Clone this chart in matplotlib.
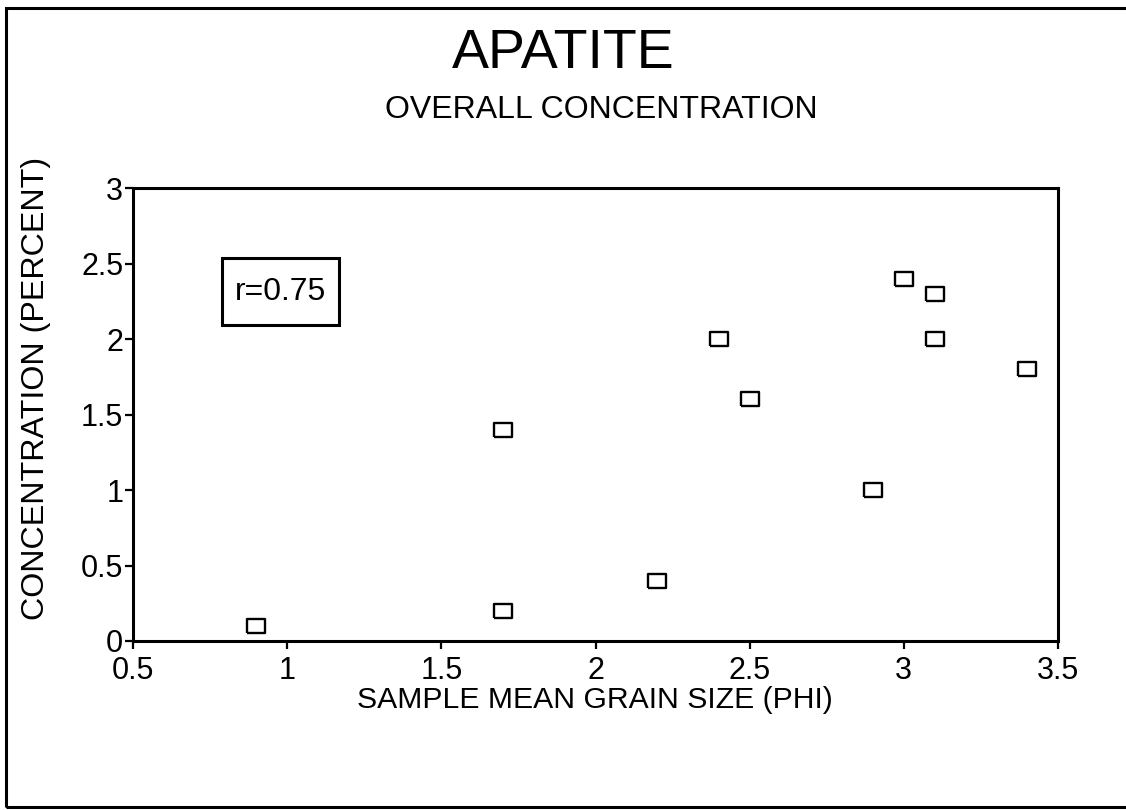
import matplotlib
matplotlib.use("Agg")
import matplotlib.pyplot as plt
from matplotlib.patches import Rectangle

plt.rcParams['font.family'] = ['Liberation Sans', 'DejaVu Sans']

# Data
grain_size = [0.9, 1.7, 1.7, 2.2, 2.4, 2.5, 2.9, 3.0, 3.1, 3.1, 3.4]
concentration = [0.1, 0.2, 1.4, 0.4, 2.0, 1.6, 1.0, 2.4, 2.3, 2.0, 1.8]
x_ticks = [0.5, 1, 1.5, 2, 2.5, 3, 3.5]
x_tick_labels = ["0.5", "1", "1.5", "2", "2.5", "3", "3.5"]
y_ticks = [0, 0.5, 1, 1.5, 2, 2.5, 3]
y_tick_labels = ["0", "0.5", "1", "1.5", "2", "2.5", "3"]
title = "APATITE"
subtitle = "OVERALL CONCENTRATION"
x_label = "SAMPLE MEAN GRAIN SIZE (PHI)"
y_label = "CONCENTRATION (PERCENT)"
annotation = "r=0.75"

W, H = 1126, 810
fig = plt.figure(figsize=(W / 100, H / 100), dpi=100)
fig.patch.set_facecolor('white')

# outer frame (right side cut off in the reference)
fig.add_artist(Rectangle((6 / W, 3 / H), 1.2, (807 - 8) / H,
                         transform=fig.transFigure, fill=False,
                         edgecolor='black', linewidth=2.2, clip_on=False))

ax = fig.add_axes([133 / W, 1 - 641 / H, (1058 - 133) / W, (641 - 188) / H])

rect_marker = [(-1, -0.78), (1, -0.78), (1, 0.78), (-1, 0.78), (-1, -0.78)]
ax.plot(grain_size, concentration, linestyle='none', marker=rect_marker,
        markersize=12.5, markerfacecolor='white', markeredgecolor='black',
        markeredgewidth=1.7, clip_on=False)

ax.set_xlim(0.5, 3.5)
ax.set_ylim(0, 3)
ax.set_xticks(x_ticks)
ax.set_xticklabels(x_tick_labels)
ax.set_yticks(y_ticks)
ax.set_yticklabels(y_tick_labels)
ax.tick_params(direction='out', length=6, width=1.6, labelsize=22, pad=1,
               colors='black')
ax.tick_params(axis='x', pad=5)
for s in ax.spines.values():
    s.set_linewidth(2.2)
    s.set_color('black')

# r annotation box
ax.add_patch(Rectangle(((222 - 133) / (1058 - 133), (641 - 325) / (641 - 188)),
                       (339 - 222) / (1058 - 133), (325 - 258) / (641 - 188),
                       transform=ax.transAxes, fill=False, edgecolor='black',
                       linewidth=2.2))
ax.text(((222 + 339) / 2 - 133) / (1058 - 133), (641 - 292) / (641 - 188),
        annotation, transform=ax.transAxes, ha='center', va='center',
        fontsize=23)

fig.text(563 / W, 1 - 68 / H, title, ha='center', va='baseline', fontsize=40)
fig.text(601 / W, 1 - 118 / H, subtitle, ha='center', va='baseline', fontsize=23)
fig.text(595 / W, 1 - 708 / H, x_label, ha='center', va='baseline', fontsize=21.7)
fig.text(36 / W, 1 - 388 / H, y_label, ha='center', va='center', rotation=90,
         fontsize=23.2)

fig.savefig("out.png", dpi=100, facecolor='white')
